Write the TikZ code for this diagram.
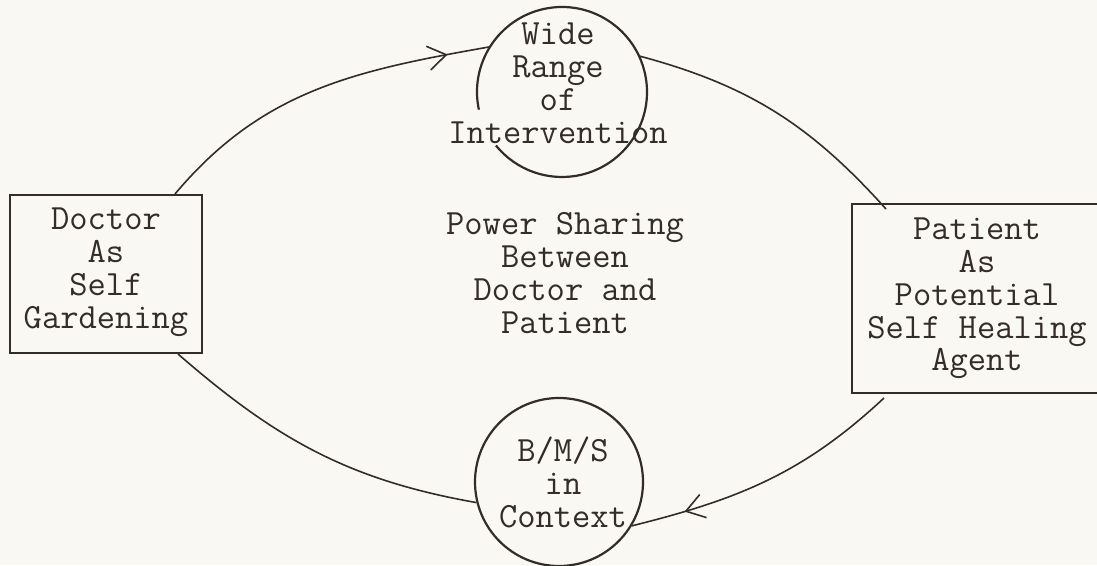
\documentclass[tikz,border=0pt]{standalone}
\usepackage{fontspec}
\usetikzlibrary{arrows.meta,decorations.markings,calc}
\definecolor{ink}{RGB}{52,44,38}
\definecolor{paper}{RGB}{250,248,243}
\newcommand\typelines[1]{\parbox[t]{320pt}{\centering #1}}
\begin{document}
\begin{tikzpicture}[x=1pt,y=1pt,
  txt/.style={anchor=base, inner sep=0pt, text=ink, font=\ttfamily\fontsize{35.5}{32.7}\selectfont},
  framebox/.style={draw=ink, line width=2pt, inner sep=0pt, rectangle},
  ring/.style={circle, inner sep=0pt, minimum size=#1},
  link/.style={draw, color=ink, line width=1.6pt},
  midarrow/.style={postaction={decorate}, decoration={markings, mark=at position #1 with {\arrow{Straight Barb[length=18pt,width=24pt,line width=1.6pt]}}}}]
\clip (0,0) rectangle (1097,565);
\fill[paper] (0,0) rectangle (1097,565);

% shapes
\node[framebox, minimum width=192pt, minimum height=158pt] (doc) at (106,291) {};
\node[framebox, minimum width=250pt, minimum height=189pt] (pat) at (977,266.5) {};
\node[ring=170pt] (wri) at (562,473) {};
\node[ring=168pt, draw=ink, line width=2.2pt] (bms) at (559,83) {};
\draw[ink, line width=2.2pt] (wri.center) ++(192:85) arc[start angle=192, end angle=-141, radius=85];

% texts
\node[txt] (docT) at (106,335) {\typelines{Doctor\\As\\Self\\Gardening}};
\node[txt] (patT) at (977,325) {\typelines{Patient\\As\\Potential\\Self Healing\\Agent}};
\node[txt] (wriT) at (558,520) {\typelines{Wide\\Range\\of\\Intervention}};
\node[txt] (bmsT) at (563,103) {\typelines{B/M/S\\in\\Context}};
\node[txt] (midT) at (565,330) {\typelines{Power Sharing\\Between\\Doctor and\\Patient}};

% connectors
\path[link, midarrow=0.88] ($(doc.north)+(69,0)$) to[out=50,in=190] (wri.148.6);
\path[link] (wri.25) to[out=-15,in=132] ($(pat.north west)+(35,-6)$);
\path[link, midarrow=0.81] ($(pat.south west)+(33,-4)$) to[out=223,in=14] (bms.-31);
\path[link] (bms.194) to[out=170,in=-41] ($(doc.south)+(72,0)$);
\end{tikzpicture}
\end{document}
